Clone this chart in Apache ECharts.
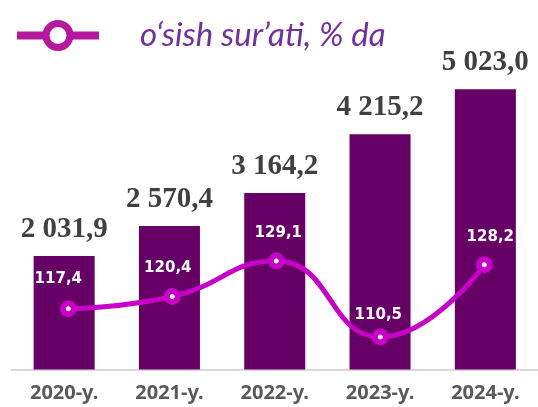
<!DOCTYPE html>
<html>
<head>
<meta charset="utf-8">
<script src="https://cdn.jsdelivr.net/npm/echarts@6/dist/echarts.min.js"></script>
<style>
html,body{margin:0;padding:0;background:#fff;}
#chart{width:538px;height:407px;}
</style>
</head>
<body>
<div id="chart"></div>
<script>
const categories = ['2020-y.', '2021-y.', '2022-y.', '2023-y.', '2024-y.'];
const volumeValues = [2031.9, 2570.4, 3164.2, 4215.2, 5023.0];
const growthValues = [117.4, 120.4, 129.1, 110.5, 128.2];
const growthName = 'o‘sish sur’ati, % da';

function fmt(v) {
  const s = v.toFixed(1).split('.');
  const intPart = s[0].replace(/\B(?=(\d{3})+(?!\d))/g, ' ');
  return intPart + ',' + s[1];
}

const lineLabelOffsets = [[-10, -2], [-4.5, 0], [2, 0], [-2, 6.5], [6, 0]];

const chart = echarts.init(document.getElementById('chart'), null, {renderer: 'canvas'});
const lineColor = '#c800c8';
const option = {
  animation: false,
  legend: {
    data: [growthName],
    left: 8,
    top: 14,
    itemWidth: 82,
    itemHeight: 30,
    itemStyle: {color: '#fff', borderColor: '#b5179e', borderWidth: 7},
    lineStyle: {color: '#b5179e', width: 8},
    textStyle: {
      fontFamily: 'Lato',
      fontStyle: 'italic',
      fontSize: 33,
      color: '#7030a0',
      padding: [0, 0, 0, 36]
    }
  },
  grid: [
    {left: 11.5, top: 34.7, width: 530.5, height: 334.8},
    {left: 16.3, top: 34.7, width: 520, height: 334.8}
  ],
  xAxis: [
    {
      type: 'category', gridIndex: 0, data: categories,
      axisLine: {lineStyle: {color: '#d9d9d9', width: 2}},
      axisTick: {show: false},
      axisLabel: {
        margin: 14,
        fontFamily: 'Noto Sans',
        fontWeight: 'bold',
        fontSize: 20,
        color: '#595959'
      }
    },
    {type: 'category', gridIndex: 1, data: categories, show: false}
  ],
  yAxis: [
    {type: 'value', gridIndex: 0, min: 0, max: 6000, show: false, splitLine: {show: false}},
    {type: 'value', gridIndex: 1, min: 102.55, max: 184.48, show: false, splitLine: {show: false}}
  ],
  series: [
    {
      name: 'hajm',
      type: 'bar',
      xAxisIndex: 0, yAxisIndex: 0,
      data: volumeValues,
      barWidth: 61,
      itemStyle: {color: '#660066'},
      label: {
        show: true,
        position: 'top',
        distance: 12,
        formatter: p => fmt(p.value),
        fontFamily: 'Liberation Serif',
        fontWeight: 'bold',
        fontSize: 29,
        color: '#404040'
      }
    },
    {
      name: growthName,
      type: 'line',
      xAxisIndex: 1, yAxisIndex: 1,
      smooth: 0.5,
      data: growthValues.map((v, i) => ({
        value: v,
        label: {offset: lineLabelOffsets[i]}
      })),
      symbol: 'circle',
      symbolSize: 11,
      itemStyle: {color: '#ffffff', borderColor: lineColor, borderWidth: 6},
      lineStyle: {color: lineColor, width: 5},
      label: {
        show: true,
        position: 'top',
        distance: 12,
        formatter: p => fmt(p.value),
        fontFamily: 'DejaVu Sans',
        fontWeight: 'bold',
        fontSize: 15,
        color: '#ffffff'
      },
      z: 5
    }
  ]
};
chart.setOption(option);
</script>
</body>
</html>
